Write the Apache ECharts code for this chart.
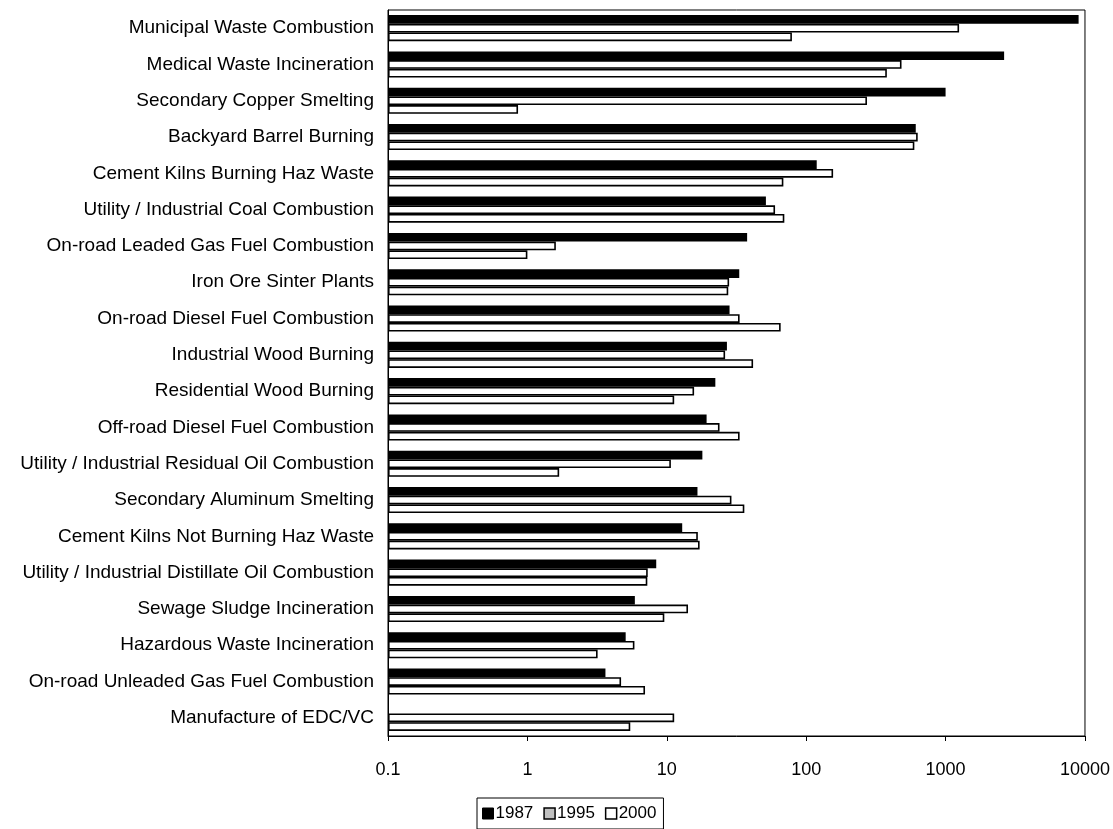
<!DOCTYPE html>
<html>
<head>
<meta charset="utf-8">
<script src="https://cdn.jsdelivr.net/npm/echarts@6/dist/echarts.min.js"></script>
<style>
html,body{margin:0;padding:0;background:#fff;}
#chart{width:1113px;height:829px;}
</style>
</head>
<body>
<div id="chart"></div>
<script>
const categories = [
  'Municipal Waste Combustion',
  'Medical Waste Incineration',
  'Secondary Copper Smelting',
  'Backyard Barrel Burning',
  'Cement Kilns Burning Haz Waste',
  'Utility / Industrial Coal Combustion',
  'On-road Leaded Gas Fuel Combustion',
  'Iron Ore Sinter Plants',
  'On-road Diesel Fuel Combustion',
  'Industrial Wood Burning',
  'Residential Wood Burning',
  'Off-road Diesel Fuel Combustion',
  'Utility / Industrial Residual Oil Combustion',
  'Secondary Aluminum Smelting',
  'Cement Kilns Not Burning Haz Waste',
  'Utility / Industrial Distillate Oil Combustion',
  'Sewage Sludge Incineration',
  'Hazardous Waste Incineration',
  'On-road Unleaded Gas Fuel Combustion',
  'Manufacture of EDC/VC'
];
const values1987 = [9000, 2630, 1000, 611, 119, 51.4, 37.7, 33.1, 28.2, 27, 22.3, 19.3, 18.0, 16.6, 12.9, 8.4, 5.9, 5.07, 3.63, null];
const values1995 = [1250, 483, 273, 631, 156, 59.8, 1.6, 28, 33.3, 26.2, 15.7, 23.9, 10.7, 29.1, 16.7, 7.3, 14.2, 5.86, 4.7, 11.3];
const values2000 = [79, 379, 0.857, 597, 68.6, 69.7, 1.0, 27.6, 65.6, 41.6, 11.3, 33.3, 1.69, 36.0, 17.2, 7.25, 9.6, 3.19, 6.98, 5.47];
const seriesNames = ['1987', '1995', '2000'];
const xTickLabels = ['0.1', '1', '10', '100', '1000', '10000'];

const font = 'Liberation Sans, Arial, sans-serif';
const chart = echarts.init(document.getElementById('chart'), null, {renderer: 'canvas'});
const barStyle = (fill) => ({color: fill, borderColor: '#000', borderWidth: 1.6});
chart.setOption({
  animation: false,
  backgroundColor: '#fff',
  grid: {
    left: 388, right: 28, top: 10, bottom: 93,
    show: true, borderColor: '#000', borderWidth: 1, backgroundColor: 'transparent'
  },
  xAxis: {
    type: 'log',
    logBase: 10,
    min: 0.1,
    max: 10000,
    startValue: 0.1,
    axisLine: {show: true, lineStyle: {color: '#000', width: 1}},
    axisTick: {show: true, inside: false, length: 5, lineStyle: {color: '#000'}},
    minorTick: {show: false},
    splitLine: {show: false},
    axisLabel: {
      color: '#000', fontFamily: font, fontSize: 18, margin: 25,
      formatter: (v) => {
        const i = Math.round(Math.log10(v)) + 1;
        return xTickLabels[i] !== undefined ? xTickLabels[i] : String(v);
      }
    }
  },
  yAxis: {
    type: 'category',
    inverse: true,
    data: categories,
    axisLine: {show: true, lineStyle: {color: '#000', width: 1}},
    axisTick: {show: false},
    axisLabel: {color: '#000', fontFamily: font, fontSize: 19, margin: 14}
  },
  legend: {
    left: 477, top: 798,
    orient: 'horizontal',
    itemWidth: 11, itemHeight: 11, itemGap: 10,
    padding: [7, 7, 7, 5],
    borderColor: '#000', borderWidth: 1, borderRadius: 0,
    icon: 'rect',
    textStyle: {color: '#000', fontFamily: font, fontSize: 17, padding: [0, 0, 0, -3]},
    data: [
      {name: '1987', itemStyle: {color: '#000', borderColor: '#000', borderWidth: 1}},
      {name: '1995', itemStyle: {color: '#c0c0c0', borderColor: '#000', borderWidth: 1.5}},
      {name: '2000', itemStyle: {color: '#fff', borderColor: '#000', borderWidth: 1.5}}
    ]
  },
  series: [
    {name: seriesNames[0], type: 'bar', data: values1987, barGap: '0%', barCategoryGap: '28%', itemStyle: barStyle('#000')},
    {name: seriesNames[1], type: 'bar', data: values1995, barGap: '0%', barCategoryGap: '28%', itemStyle: barStyle('#ffffff')},
    {name: seriesNames[2], type: 'bar', data: values2000, barGap: '0%', barCategoryGap: '28%', itemStyle: barStyle('#ffffff')}
  ]
});
</script>
</body>
</html>
